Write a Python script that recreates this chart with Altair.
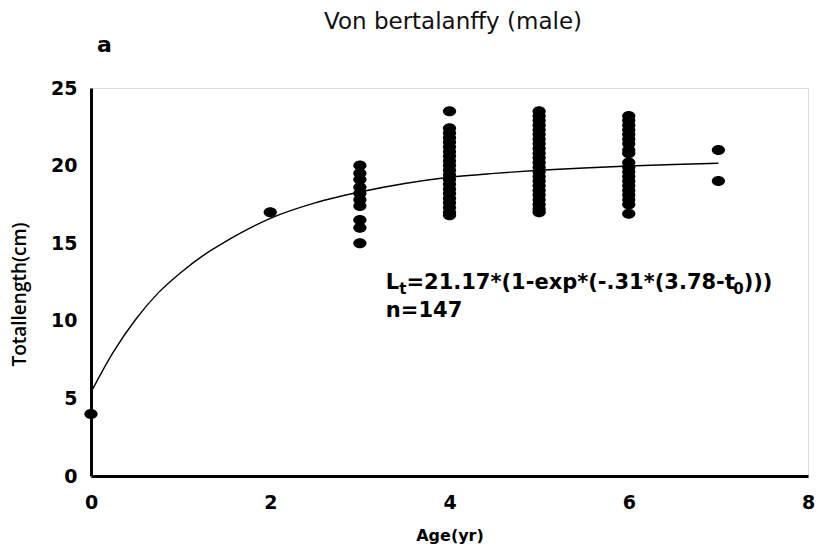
import altair as alt
import pandas as pd

# ---- data ----
age0 = [4.0]
age2 = [17.0]
age3 = [20.0, 19.5, 19.1, 18.6, 18.2, 17.8, 17.4, 16.5, 16.0, 15.0]
age4 = [23.5, 22.4, 22.1, 21.8, 21.5, 21.2, 20.9, 20.6, 20.3, 20.0, 19.7, 19.4,
        19.1, 18.8, 18.5, 18.2, 17.9, 17.6, 17.3, 17.0, 16.8]
age5 = [23.5, 23.2, 22.9, 22.6, 22.3, 22.0, 21.7, 21.4, 21.1, 20.8, 20.5, 20.2,
        19.9, 19.6, 19.3, 19.0, 18.7, 18.4, 18.1, 17.8, 17.5, 17.2, 17.0]
age6 = [23.2, 22.9, 22.6, 22.3, 22.0, 21.7, 21.4, 21.0, 20.8, 20.2, 19.9, 19.6,
        19.3, 19.0, 18.7, 18.4, 18.1, 17.8, 17.5, 16.9]
age7 = [21.0, 19.0]

curve_age = [0, 0.25, 0.5, 0.75, 1.0, 1.25, 1.5, 1.75, 2.0, 2.5, 3.0, 3.5, 4.0,
             4.5, 5.0, 5.5, 6.0, 6.5, 7.0]
curve_len = [5.4, 8.0, 10.1, 11.8, 13.1, 14.2, 15.1, 15.9, 16.6, 17.6, 18.3, 18.85,
             19.25, 19.5, 19.7, 19.85, 19.97, 20.07, 20.15]

x_ticks = [0, 2, 4, 6, 8]
y_ticks = [0, 5, 10, 15, 20, 25]

chart_title = "Von bertalanffy (male)"
panel_label = "a"
eq_anchor = {"x": [3.29], "y": [12.44]}
n_anchor = {"x": [3.29], "y": [10.63]}

# ---- tables ----
rows = []
for a, vals in [(0, age0), (2, age2), (3, age3), (4, age4), (5, age5), (6, age6), (7, age7)]:
    for v in vals:
        rows.append({"age": a, "length": v})
pts = pd.DataFrame(rows)
curve = pd.DataFrame({"age": curve_age, "length": curve_len})
eq_df = pd.DataFrame(eq_anchor)
n_df = pd.DataFrame(n_anchor)
one = pd.DataFrame({"k": [0]})

xscale = alt.Scale(domain=[0, 8], nice=False, zero=False)
yscale = alt.Scale(domain=[0, 25], nice=False)

ellipse = "M-1.15,0A1.15,0.87 0 1,1 1.15,0A1.15,0.87 0 1,1 -1.15,0Z"

xaxis = alt.Axis(values=x_ticks, format="d", title="Age(yr)", grid=False, ticks=False,
                 tickSize=0, domainColor="black", domainWidth=3, labelPadding=17,
                 labelFlush=False, labelOverlap=False,
                 labelFont="DejaVu Sans", labelFontWeight="bold", labelFontSize=19,
                 labelColor="black", titleFont="DejaVu Sans", titleFontWeight="bold",
                 titleFontSize=16, titleColor="black", titlePadding=15)
yaxis = alt.Axis(values=y_ticks, format="d", title="Totallength(cm)", grid=False,
                 ticks=False, tickSize=0, domainColor="black", domainWidth=3,
                 labelPadding=14, labelFlush=False, labelOverlap=False,
                 labelFont="DejaVu Sans", labelFontWeight="bold",
                 labelFontSize=19, labelColor="black", titleFont="Open Sans",
                 titleFontWeight=600, titleFontSize=19, titleColor="black",
                 titleX=-72, titleY=206, titleAngle=270, titleBaseline="middle",
                 titleAlign="center")

scatter = alt.Chart(pts).mark_point(shape=ellipse, filled=True, color="black",
                                    opacity=1, size=132).encode(
    x=alt.X("age:Q", scale=xscale, axis=xaxis),
    y=alt.Y("length:Q", scale=yscale, axis=yaxis),
)

line = alt.Chart(curve).mark_line(color="black", strokeWidth=1.4,
                                  interpolate="monotone").encode(
    x=alt.X("age:Q", scale=xscale),
    y=alt.Y("length:Q", scale=yscale),
)

F = 21
S = 15
def piece(df, txt, dx, dy=0, size=F):
    return alt.Chart(df).mark_text(text=txt, align="left", baseline="middle",
                                   font="DejaVu Sans", fontWeight="bold",
                                   fontSize=size, color="black", dx=dx, dy=dy).encode(
        x=alt.X("x:Q", scale=xscale), y=alt.Y("y:Q", scale=yscale))

eq_layers = [
    piece(eq_df, "L", 0),
    piece(eq_df, "t", 13.4, 6, S),
    piece(eq_df, "=21.17*(1-exp*(-.31*(3.78-t", 20.6),
    piece(eq_df, "0", 347.4, 6, S),
    piece(eq_df, ")))", 357.8),
    piece(n_df, "n=147", 0),
]

label_a = alt.Chart(one).mark_text(text=panel_label, align="left", baseline="middle",
                                   font="DejaVu Sans", fontWeight="bold",
                                   fontSize=22, color="black").encode(
    x=alt.value(6), y=alt.value(-43))

title_mark = alt.Chart(one).mark_text(text=chart_title, align="center", baseline="middle",
                                      font="DejaVu Sans", fontSize=23, color="#111").encode(
    x=alt.value(362), y=alt.value(-66))

chart = alt.layer(line, scatter, *eq_layers, label_a, title_mark).properties(
    width=717, height=388,
    autosize=alt.AutoSizeParams(type="none"),
    padding={"left": 91, "top": 88, "right": 8, "bottom": 76},
).configure_view(stroke=None).configure(background="white")

chart.save("out.html", embed_options={"renderer": "svg", "actions": False})
